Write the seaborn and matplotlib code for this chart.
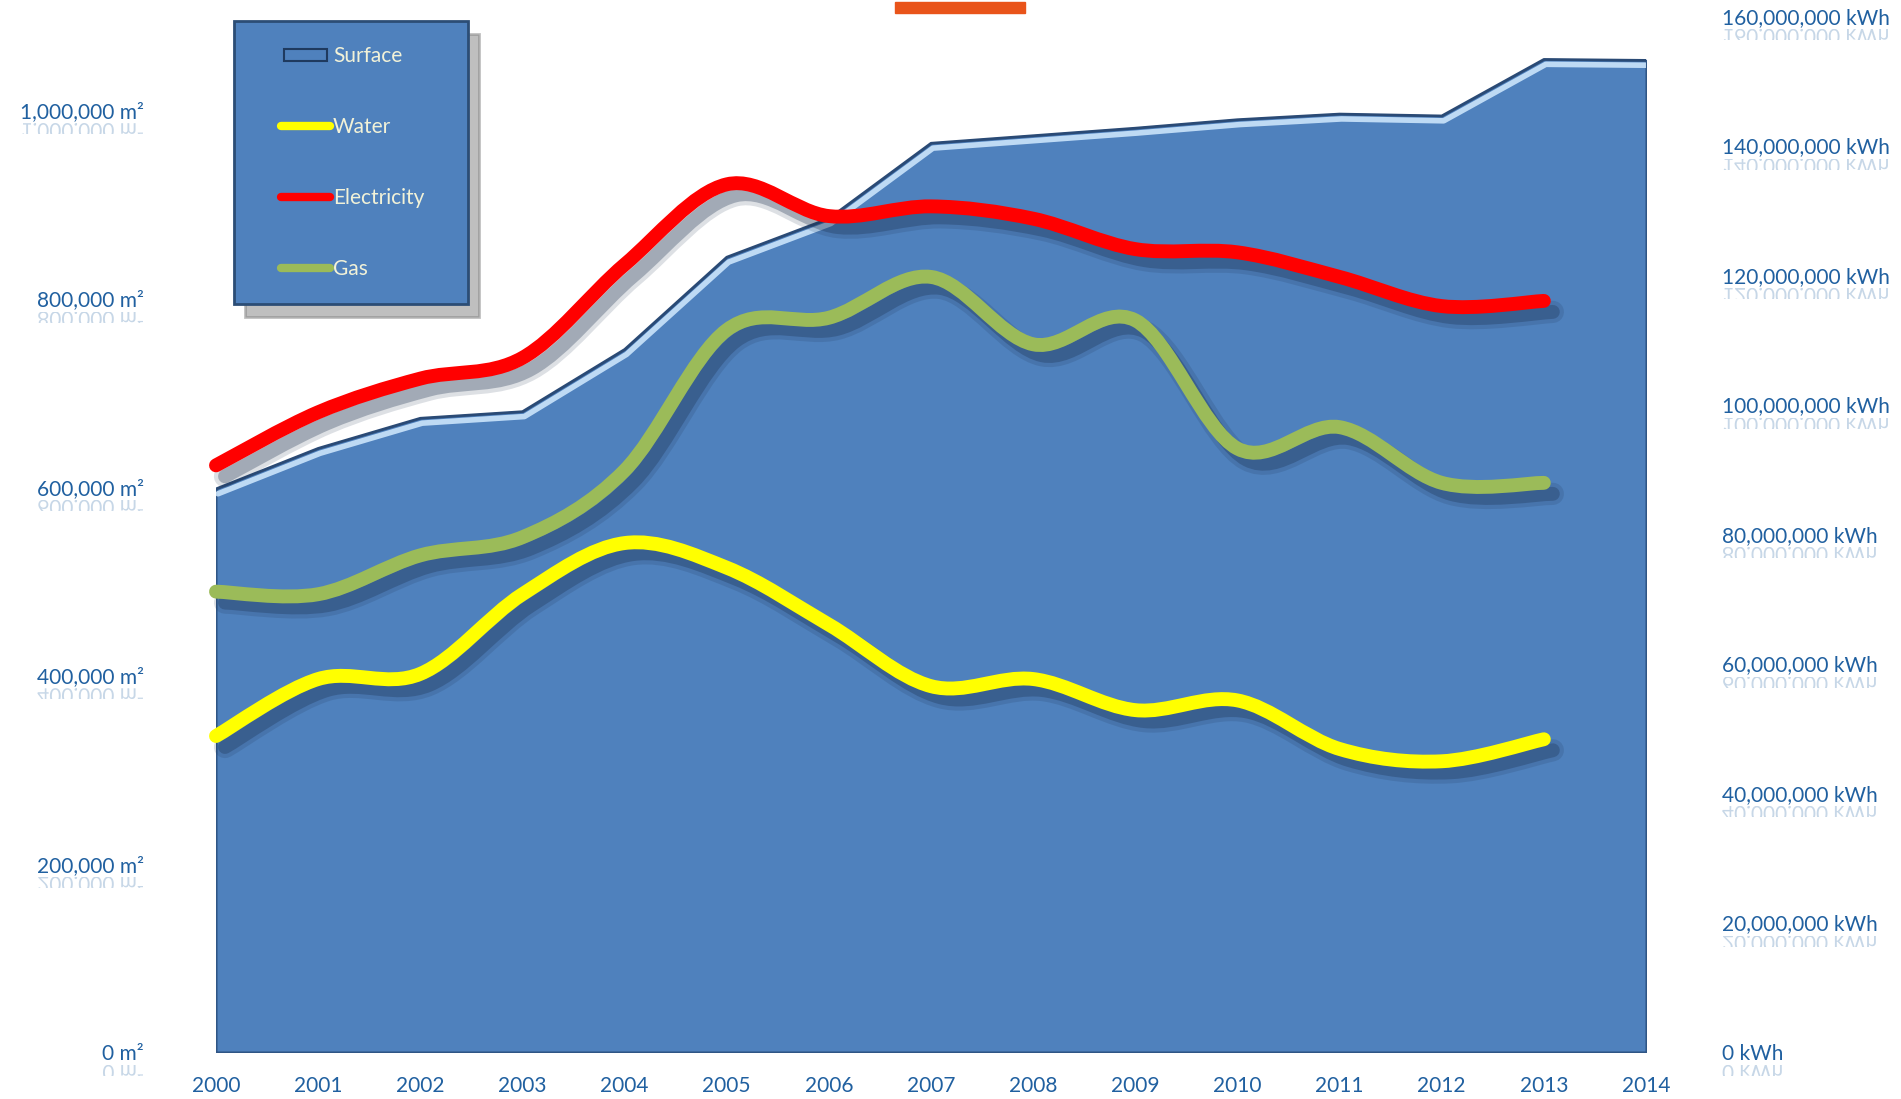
import numpy as np
import seaborn as sns
import matplotlib.pyplot as plt
import matplotlib.transforms as mtransforms
from matplotlib.path import Path
from matplotlib.patches import PathPatch, Patch, Rectangle
from matplotlib.lines import Line2D
from matplotlib.legend_handler import HandlerLine2D, HandlerPatch
from matplotlib.textpath import TextPath
from matplotlib.font_manager import FontProperties

# data
years = list(range(2000, 2015))
surface_m2 = [598000, 641000, 673000, 680000, 746000, 844000, 885000, 965000,
              973000, 981000, 990000, 996000, 994000, 1054000, 1053000]

line_years = list(range(2000, 2014))
water_kwh = [48.8e6, 57.6e6, 58.4e6, 70.7e6, 78.6e6, 74.8e6, 66.0e6, 56.5e6,
             57.6e6, 52.8e6, 54.3e6, 46.8e6, 44.9e6, 48.3e6]
electricity_kwh = [90.6e6, 98.8e6, 104.0e6, 107.2e6, 121.6e6, 134.0e6, 129.1e6,
                   130.6e6, 128.7e6, 124.0e6, 123.5e6, 119.7e6, 115.2e6, 116.0e6]
gas_kwh = [71.1e6, 70.7e6, 76.7e6, 79.5e6, 89.8e6, 111.5e6, 113.4e6, 119.7e6,
           109.3e6, 113.0e6, 93.2e6, 96.5e6, 87.9e6, 87.9e6]

left_ticks = [0, 200000, 400000, 600000, 800000, 1000000]
right_ticks = [0, 20e6, 40e6, 60e6, 80e6, 100e6, 120e6, 140e6, 160e6]

series = [("Water", water_kwh, "#ffff00"),
          ("Electricity", electricity_kwh, "#ff0000"),
          ("Gas", gas_kwh, "#9bbb59")]

TICK_COLOR = "#2060a0"
AREA_COLOR = "#4f81bd"

sns.set_style("white")
plt.rcParams["font.family"] = ["Lato", "DejaVu Sans"]

W, H, DPI = 1901, 1099, 100
fig = plt.figure(figsize=(W / DPI, H / DPI), dpi=DPI)
ax1 = fig.add_axes([216 / W, 1 - 1052 / H, (1646 - 216) / W, (1052 - 16) / H])
ax2 = ax1.twinx()


def smooth_path(xs, ys):
    # cubic bezier through the points, like a spreadsheet "smoothed line"
    xs = np.asarray(xs, float)
    ys = np.asarray(ys, float)
    n = len(xs)
    verts = [(xs[0], ys[0])]
    codes = [Path.MOVETO]
    for i in range(n - 1):
        a = i - 1 if i > 0 else i
        d = i + 2 if i + 2 < n else i + 1
        c1 = (xs[i] + (xs[i + 1] - xs[a]) / 6, ys[i] + (ys[i + 1] - ys[a]) / 6)
        c2 = (xs[i + 1] - (xs[d] - xs[i]) / 6, ys[i + 1] - (ys[d] - ys[i]) / 6)
        verts += [c1, c2, (xs[i + 1], ys[i + 1])]
        codes += [Path.CURVE4] * 3
    return Path(verts, codes)


# surface area
ax1.fill_between(years, surface_m2, 0, color=AREA_COLOR, edgecolor="#2f5585",
                 linewidth=1.5, zorder=1)
sns.lineplot(x=years, y=surface_m2, ax=ax1, color="#2a4a75", linewidth=1.8, zorder=3)
hl = mtransforms.offset_copy(ax1.transData, fig=fig, x=2, y=-5, units="dots")
ax1.plot(years, surface_m2, color="#d2eaff", linewidth=4, alpha=0.85,
         transform=hl, zorder=2, solid_capstyle="round")

# smoothed consumption lines with soft drop shadow
shadow_tr = mtransforms.offset_copy(ax2.transData, fig=fig, x=9, y=-11, units="dots")
for name, vals, col in series:
    p = smooth_path(line_years, vals)
    ax2.add_patch(PathPatch(p, fill=False, edgecolor="#1b2f4d", linewidth=16,
                            alpha=0.15, capstyle="round", transform=shadow_tr,
                            clip_on=False, zorder=2))
    ax2.add_patch(PathPatch(p, fill=False, edgecolor="#1b2f4d", linewidth=10,
                            alpha=0.3, capstyle="round", transform=shadow_tr,
                            clip_on=False, zorder=2))
for name, vals, col in series:
    p = smooth_path(line_years, vals)
    ax2.add_patch(PathPatch(p, fill=False, edgecolor=col, linewidth=10,
                            capstyle="round", joinstyle="round", clip_on=False,
                            zorder=3))

ax1.set_xlim(2000, 2014)
ax1.set_ylim(0, 1.1e6)
ax2.set_ylim(0, 160e6)
ax1.set_xticks(years)
ax1.set_xticklabels([str(y) for y in years])
ax1.set_yticks(left_ticks)
ax1.set_yticklabels([f"{v:,.0f} m\u00b2" for v in left_ticks])
ax2.set_yticks(right_ticks)
ax2.set_yticklabels([f"{v:,.0f} kWh" for v in right_ticks])
ax1.set_xlabel("")
ax1.set_ylabel("")

for ax in (ax1, ax2):
    for s in ax.spines.values():
        s.set_visible(False)
    ax.grid(False)
ax1.tick_params(axis="x", length=0, pad=17, labelsize=15, labelcolor=TICK_COLOR)
ax1.tick_params(axis="y", length=0, pad=52, labelsize=15, labelcolor=TICK_COLOR)
ax2.tick_params(axis="y", length=0, pad=55, labelsize=15, labelcolor=TICK_COLOR)

# faint mirrored reflections under the value labels
fp = FontProperties(family="Lato")
k = DPI / 72.0


def reflect(text, x_left, y_tick):
    tp = TextPath((0, 0), text, size=15, prop=fp)
    tr = mtransforms.Affine2D().scale(k, -k).translate(x_left, y_tick - 13)
    patch = PathPatch(tp, transform=tr, facecolor=TICK_COLOR, edgecolor="none",
                      alpha=0.25)
    patch.set_clip_box(mtransforms.Bbox([[x_left - 5, y_tick - 24], [x_left + 400, y_tick - 13]]))
    fig.patches.append(patch)


for v in left_ticks:
    txt = f"{v:,.0f} m\u00b2"
    y = ax1.transData.transform((2000, v))[1]
    wid = TextPath((0, 0), txt, size=15, prop=fp).get_extents().x1 * k
    reflect(txt, 143 - wid, y)
for v in right_ticks:
    txt = f"{v:,.0f} kWh"
    y = ax2.transData.transform((2000, v))[1]
    reflect(txt, 1722, y)

# orange mark at the top
fig.patches.append(Rectangle((895 / W, 1 - 13 / H), 130 / W, 11 / H,
                             transform=fig.transFigure, color="#e9541a"))

# legend, handles inset from the left edge of the box
INSET = 16


class InsetLine(HandlerLine2D):
    def create_artists(self, legend, orig_handle, xdescent, ydescent, width,
                       height, fontsize, trans):
        y = height / 2 - ydescent
        line = Line2D([-xdescent + INSET, width - xdescent], [y, y])
        self.update_prop(line, orig_handle, legend)
        line.set_transform(trans)
        return [line]


def inset_patch(legend, orig_handle, xdescent, ydescent, width, height, fontsize):
    return Rectangle((-xdescent + INSET + 2, -ydescent + height * 0.1),
                     width - INSET - 4, height * 0.8)


handles = [Patch(facecolor=AREA_COLOR, edgecolor="#1f3a5f", linewidth=1.5)]
handles += [Line2D([], [], color=c, linewidth=6, solid_capstyle="round") for _, _, c in series]
labels = ["Surface"] + [n for n, _, _ in series]
hmap = {Line2D: InsetLine(), Patch: HandlerPatch(patch_func=inset_patch)}
leg = fig.legend(handles, labels, loc="upper left", handler_map=hmap,
                 bbox_to_anchor=(234 / W, 1 - 21 / H, 234 / W, 0), mode="expand",
                 borderaxespad=0, frameon=True, fancybox=False,
                 shadow={"ox": 8, "oy": -9, "color": "#808080", "alpha": 0.5},
                 facecolor=AREA_COLOR, edgecolor="#2c4d75", framealpha=1,
                 fontsize=15, labelspacing=2.45, borderpad=1.2, handlelength=3.4,
                 handletextpad=0.15, labelcolor="#f2f2d8")
leg.get_frame().set_linewidth(2)

fig.savefig("out.png", dpi=DPI)
